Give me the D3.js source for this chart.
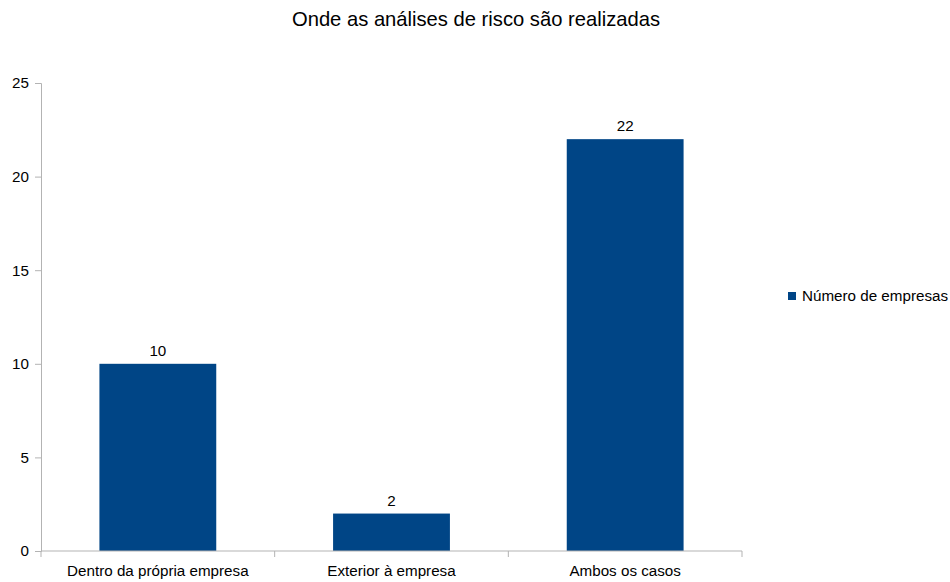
<!DOCTYPE html>
<html><head><meta charset="utf-8">
<script src="https://cdn.jsdelivr.net/npm/d3@7"></script>
<style>body{margin:0;background:#fff}svg{display:block;font-family:"Liberation Sans",Arial,sans-serif}</style>
</head><body><svg id="c" width="950" height="582"></svg>
<script>
const categories = ["Dentro da própria empresa", "Exterior à empresa", "Ambos os casos"];
const values = [10, 2, 22];
const seriesName = "Número de empresas";
const yTicks = [0, 5, 10, 15, 20, 25];
const title = "Onde as análises de risco são realizadas";

(function () {
const svg = d3.select("#c");
const pL = 41, pR = 742, pT = 83, pB = 551;
const fs = 15.2;
const x = d3.scaleBand().domain(categories).range([pL, pR]).paddingInner(0.5).paddingOuter(0.25);
const y = d3.scaleLinear().domain([0, 25]).range([pB, pT]);
const axisColor = "#b3b3b3";

svg.append("text").attr("x", 476).attr("y", 26).attr("text-anchor", "middle")
  .attr("font-size", 20.2).attr("fill", "#000").text(title);

const ya = svg.append("g").attr("transform", `translate(${pL},0)`)
  .call(d3.axisLeft(y).tickValues(yTicks).tickSize(6).tickPadding(6));
ya.select(".domain").attr("stroke", axisColor);
ya.selectAll(".tick line").attr("stroke", axisColor);
ya.selectAll(".tick text").attr("font-size", fs).attr("fill", "#000").attr("font-family", "Liberation Sans, Arial, sans-serif");

svg.selectAll("rect.bar").data(values).join("rect").attr("class", "bar")
  .attr("x", (d, i) => x(categories[i])).attr("width", x.bandwidth())
  .attr("y", d => y(d)).attr("height", d => y(0) - y(d)).attr("fill", "#004586");

const xa = svg.append("g").attr("transform", `translate(0,${pB})`)
  .call(d3.axisBottom(x).tickSize(0).tickPadding(14));
xa.select(".domain").attr("stroke", axisColor).attr("d", `M${pL},0H${pR}`);
xa.selectAll(".tick text").attr("font-size", fs).attr("fill", "#000").attr("font-family", "Liberation Sans, Arial, sans-serif")
  .attr("y", 25).attr("dy", null);
const step = (pR - pL) / categories.length;
xa.selectAll("line.sep").data(d3.range(categories.length + 1)).join("line").attr("class", "sep")
  .attr("x1", i => pL + i * step).attr("x2", i => pL + i * step)
  .attr("y1", 0).attr("y2", 6).attr("stroke", axisColor);

svg.selectAll("text.val").data(values).join("text").attr("class", "val")
  .attr("x", (d, i) => x(categories[i]) + x.bandwidth() / 2).attr("y", d => y(d) - 8)
  .attr("text-anchor", "middle").attr("font-size", fs).attr("fill", "#000").text(d => d);

svg.append("rect").attr("x", 788).attr("y", 292).attr("width", 8).attr("height", 8).attr("fill", "#004586");
svg.append("text").attr("x", 802).attr("y", 301).attr("font-size", fs).attr("fill", "#000").text(seriesName);
})();
</script></body></html>
